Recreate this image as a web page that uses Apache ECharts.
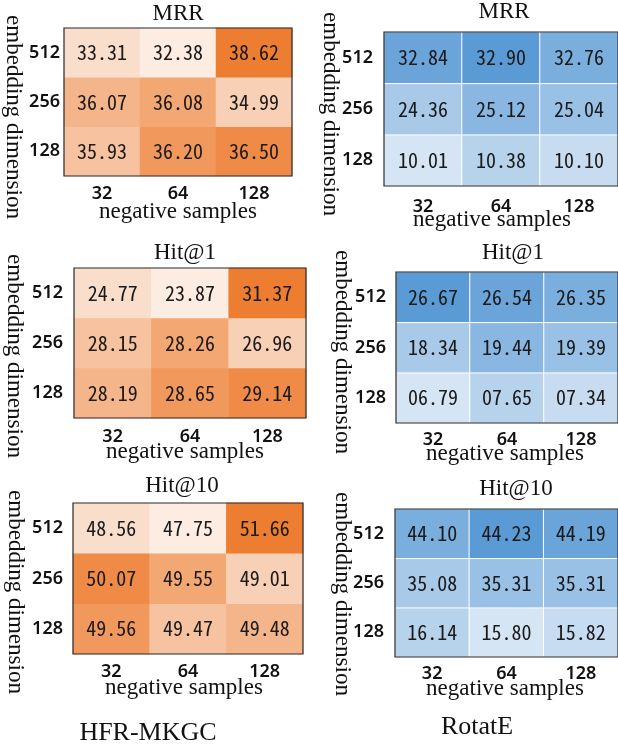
<!DOCTYPE html>
<html><head><meta charset="utf-8">
<script src="https://cdn.jsdelivr.net/npm/echarts@6/dist/echarts.min.js"></script>
<style>html,body{margin:0;padding:0;background:#fff}#c{width:618px;height:747px}</style>
</head><body><div id="c"></div>
<script>
// categories
const negSamples = ['32', '64', '128'];
const embDims = ['128', '256', '512'];   // bottom-to-top
const panelTitles = ['MRR', 'Hit@1', 'Hit@10'];
const modelNames = ['HFR-MKGC', 'RotatE'];
const xAxisName = 'negative samples';
const yAxisName = 'embedding dimension';

// values: rows in embDims order (128, 256, 512), columns in negSamples order
const hfrMRR   = [[35.93, 36.20, 36.50], [36.07, 36.08, 34.99], [33.31, 32.38, 38.62]];
const hfrHit1  = [[28.19, 28.65, 29.14], [28.15, 28.26, 26.96], [24.77, 23.87, 31.37]];
const hfrHit10 = [[49.56, 49.47, 49.48], [50.07, 49.55, 49.01], [48.56, 47.75, 51.66]];
const rotMRR   = [[10.01, 10.38, 10.10], [24.36, 25.12, 25.04], [32.84, 32.90, 32.76]];
const rotHit1  = [[6.79, 7.65, 7.34], [18.34, 19.44, 19.39], [26.67, 26.54, 26.35]];
const rotHit10 = [[16.14, 15.80, 15.82], [35.08, 35.31, 35.31], [44.10, 44.23, 44.19]];

const panels = [
  { vals: hfrMRR,   grid: { left: 64,  top: 28,  width: 228, height: 148 }, xm: 9,  ym: 4,  blue: false },
  { vals: rotMRR,   grid: { left: 384, top: 32,  width: 237, height: 154 }, xm: 12, ym: 11, blue: true },
  { vals: hfrHit1,  grid: { left: 74,  top: 268, width: 232, height: 150 }, xm: 10, ym: 11, blue: false },
  { vals: rotHit1,  grid: { left: 396, top: 272, width: 228, height: 151 }, xm: 8,  ym: 10, blue: true },
  { vals: hfrHit10, grid: { left: 73,  top: 503, width: 230, height: 151 }, xm: 9,  ym: 10, blue: false },
  { vals: rotHit10, grid: { left: 395, top: 509, width: 225, height: 148 }, xm: 8,  ym: 11, blue: true }
];

function buildData(vals) {
  const flat = [];
  vals.forEach((row, yi) => row.forEach((v, xi) => flat.push([xi, yi, v])));
  const sorted = flat.map(d => d[2]).slice().sort((a, b) => a - b);
  return flat.map(d => [d[0], d[1], d[2], sorted.indexOf(d[2])]);
}

const tickFont = { fontFamily: 'Noto Sans', fontSize: 18, fontWeight: 600, color: '#111' };
const grids = [], xAxes = [], yAxes = [], series = [], visualMaps = [];
panels.forEach((p, i) => {
  grids.push(Object.assign({ show: true, z: 5, borderColor: '#2a2a2a', borderWidth: 1.2, backgroundColor: 'transparent' }, p.grid));
  xAxes.push({
    type: 'category', gridIndex: i, data: negSamples,
    axisLine: { show: false }, axisTick: { show: false }, splitLine: { show: false },
    axisLabel: Object.assign({ margin: p.xm }, tickFont)
  });
  yAxes.push({
    type: 'category', gridIndex: i, data: embDims,
    axisLine: { show: false }, axisTick: { show: false }, splitLine: { show: false },
    axisLabel: Object.assign({ margin: p.ym }, tickFont)
  });
  series.push({
    type: 'heatmap', xAxisIndex: i, yAxisIndex: i,
    data: buildData(p.vals),
    encode: { x: 0, y: 1, value: 2 },
    itemStyle: p.blue ? { borderColor: '#ffffff', borderWidth: 1 } : { borderWidth: 0 },
    label: {
      show: true, fontFamily: '"Noto Sans Mono CJK SC", "Noto Sans CJK SC", "DejaVu Sans Mono"', fontSize: 20, color: '#1a1a1a',
      formatter: prm => prm.value[2].toFixed(2).padStart(5, '0')
    },
    emphasis: { disabled: true }
  });
  visualMaps.push({
    type: 'continuous', show: false, seriesIndex: i, dimension: 3, min: 0, max: 8,
    inRange: { color: p.blue ? ['#d6e5f4', '#5b9bd5'] : ['#fcece2', '#ed7d31'] }
  });
});

const serif = 'Liberation Serif';
function txt(text, x, y, size, rot) {
  return { type: 'text', x: x, y: y, rotation: rot || 0, z: 10,
    style: { text: text, fontFamily: serif, fontSize: size, fill: '#111', align: 'center', verticalAlign: 'middle' } };
}
const graphics = [
  txt(panelTitles[0], 178, 14, 23), txt(panelTitles[0], 504, 12, 23),
  txt(panelTitles[1], 185, 253, 23), txt(panelTitles[1], 513, 253, 23),
  txt(panelTitles[2], 182, 486, 23), txt(panelTitles[2], 516, 489, 23),
  txt(xAxisName, 178, 212, 23), txt(xAxisName, 492, 220, 23),
  txt(xAxisName, 185, 452, 23), txt(xAxisName, 505, 454, 23),
  txt(xAxisName, 184, 688, 23), txt(xAxisName, 505, 689, 23),
  txt(yAxisName, 13, 117, 23, -Math.PI / 2), txt(yAxisName, 330, 114, 23, -Math.PI / 2),
  txt(yAxisName, 14, 356, 23, -Math.PI / 2), txt(yAxisName, 342, 352, 23, -Math.PI / 2),
  txt(yAxisName, 15, 592, 23, -Math.PI / 2), txt(yAxisName, 342, 594, 23, -Math.PI / 2),
  txt(modelNames[0], 148, 733, 26), txt(modelNames[1], 477, 727, 26)
];

const chart = echarts.init(document.getElementById('c'), null, { renderer: 'canvas' });
chart.setOption({
  animation: false,
  backgroundColor: '#ffffff',
  grid: grids, xAxis: xAxes, yAxis: yAxes,
  visualMap: visualMaps,
  series: series,
  graphic: graphics
});
</script>
</body></html>
